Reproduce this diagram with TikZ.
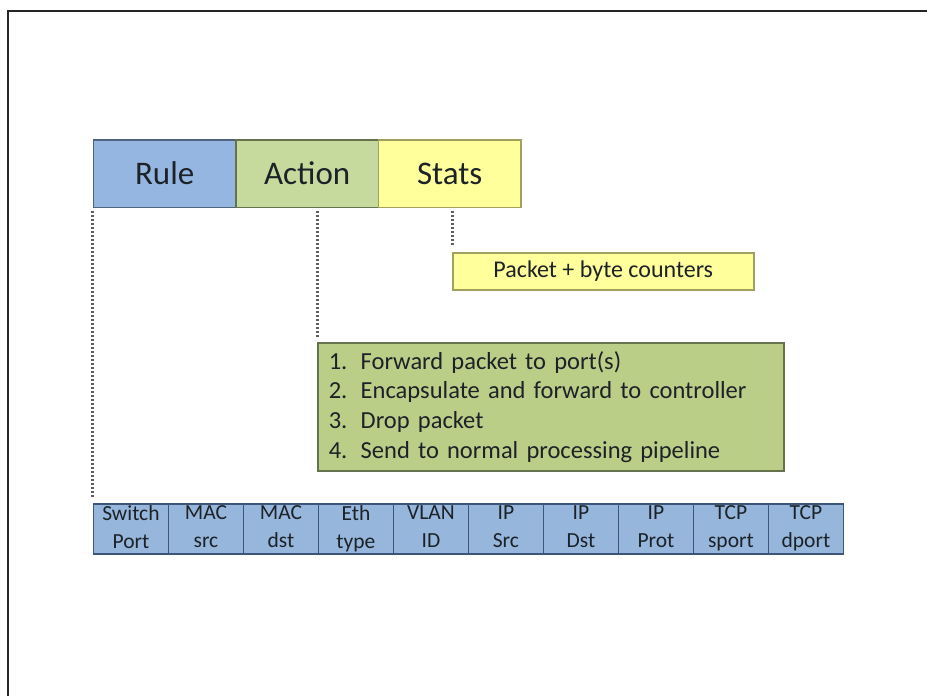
\documentclass[tikz,border=0pt]{standalone}
\usepackage{fontspec}
\setmainfont{Carlito}
\usetikzlibrary{positioning}
\definecolor{ruleblue}{RGB}{149,182,224}
\definecolor{ruleedge}{RGB}{80,100,125}
\definecolor{actgreen}{RGB}{198,218,158}
\definecolor{actedge}{RGB}{100,115,75}
\definecolor{listgreen}{RGB}{186,206,136}
\definecolor{statyellow}{RGB}{255,255,156}
\definecolor{statedge}{RGB}{160,160,95}
\definecolor{cellblue}{RGB}{150,182,220}
\definecolor{celledge}{RGB}{60,85,120}
\definecolor{ink}{RGB}{28,34,40}
\definecolor{dotgray}{RGB}{95,95,95}
\newcommand{\fieldlines}[2]{\vphantom{Tp}#1\\#2\vphantom{Tp}}
\tikzset{
  headbox/.style={draw, line width=1.5pt, inner sep=0pt, anchor=north west,
    minimum width=142.5pt, minimum height=67.5pt, text=ink,
    font=\fontsize{33}{36}\selectfont},
  fieldcell/.style={draw=celledge, fill=cellblue, line width=1.5pt, inner sep=0pt,
    anchor=north west, minimum width=75pt, minimum height=50pt, align=center,
    text=ink, font=\fontsize{21.5}{28}\selectfont},
  conn/.style={draw=dotgray, line width=3pt, dash pattern=on 2pt off 2pt},
  frameline/.style={draw=black!85, line width=2pt}
}
\begin{document}
\begin{tikzpicture}[x=1pt,y=-1pt]
\useasboundingbox (0,0) rectangle (927,696);
\fill[white] (0,0) rectangle (927,696);
% frame edges
\coordinate (ftop) at (927,10.5);
\coordinate (fcorner) at (7.5,10.5);
\coordinate (fbot) at (7.5,696);
\draw[frameline] (ftop) -- (fcorner) -- (fbot);

% flow entry header
\node[headbox, fill=ruleblue, draw=ruleedge] (rule) at (92.7,139) {Rule};
\node[headbox, fill=actgreen, draw=actedge] (action) at (235.2,139) {Action};
\node[headbox, fill=statyellow, draw=statedge] (stats) at (377.7,139) {Stats};

% stats detail
\node[draw=statedge, fill=statyellow, line width=1.5pt, inner sep=0pt,
  anchor=north west, minimum width=301pt, minimum height=37pt, text=ink,
  font=\fontsize{24}{28}\selectfont] (pkt) at (452,252) {Packet + byte counters};

% action list
\node[draw=actedge, fill=listgreen, line width=1.5pt, inner xsep=11pt, inner ysep=0pt,
  anchor=north west, minimum width=466pt, minimum height=128pt,
  text width=444pt, align=left, text=ink,
  font=\fontsize{24.5}{29.6}\selectfont] (acts) at (317,342)
  {\makebox[32pt][l]{1.}Forward packet to port(s)\\
   \makebox[32pt][l]{2.}Encapsulate and forward to controller\\
   \makebox[32pt][l]{3.}Drop packet\\
   \makebox[32pt][l]{4.}Send to normal processing pipeline};

% header fields
\node[fieldcell] (f1) at (92.7,503) {\fieldlines{Switch}{Port}};
\node[fieldcell] (f2) at (167.7,503) {\fieldlines{MAC}{src}};
\node[fieldcell] (f3) at (242.7,503) {\fieldlines{MAC}{dst}};
\node[fieldcell] (f4) at (317.7,503) {\fieldlines{Eth}{type}};
\node[fieldcell] (f5) at (392.7,503) {\fieldlines{VLAN}{ID}};
\node[fieldcell] (f6) at (467.7,503) {\fieldlines{IP}{Src}};
\node[fieldcell] (f7) at (542.7,503) {\fieldlines{IP}{Dst}};
\node[fieldcell] (f8) at (617.7,503) {\fieldlines{IP}{Prot}};
\node[fieldcell] (f9) at (692.7,503) {\fieldlines{TCP}{sport}};
\node[fieldcell] (f10) at (767.7,503) {\fieldlines{TCP}{dport}};

% dotted leaders
\draw[conn, shorten <=3pt, shorten >=6pt] (rule.south west) -- (f1.north west);
\draw[conn, shorten <=3pt, shorten >=5pt] (acts.north west |- action.south) -- (acts.north west);
\draw[conn, shorten <=3pt, shorten >=7pt] (pkt.north west |- stats.south) -- (pkt.north west);
\end{tikzpicture}
\end{document}
